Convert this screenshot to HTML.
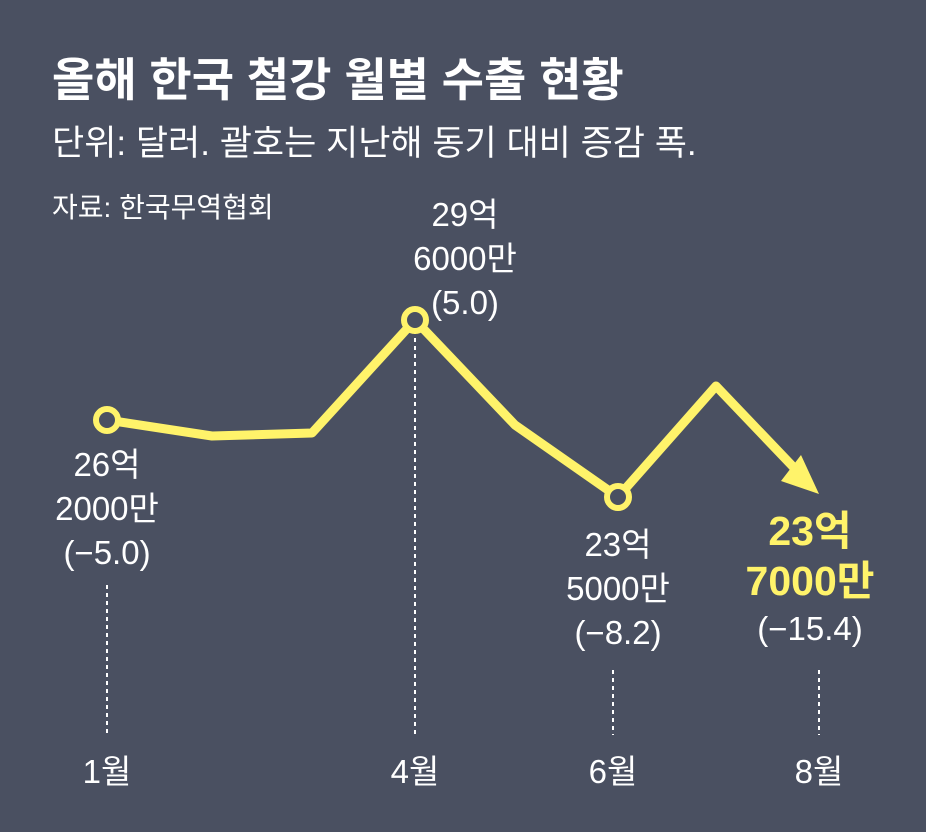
<!DOCTYPE html>
<html><head><meta charset="utf-8"><style>
html,body{margin:0;padding:0;}
body{width:926px;height:832px;background:#4a5061;overflow:hidden;position:relative;font-family:"Liberation Sans","Noto Sans CJK KR",sans-serif;color:#fff;}
.t{position:absolute;white-space:nowrap;}
.c{position:absolute;text-align:center;line-height:44px;font-size:33px;transform:translateX(-50%);white-space:nowrap;}
</style></head><body>
<div class="t" style="left:52px;top:44px;font-size:46px;font-weight:bold;">올해 한국 철강 월별 수출 현황</div>
<div class="t" style="left:52px;top:115px;font-size:35px;">단위: 달러. 괄호는 지난해 동기 대비 증감 폭.</div>
<div class="t" style="left:52px;top:186px;font-size:28px;">자료: 한국무역협회</div>
<svg width="926" height="832" style="position:absolute;left:0;top:0">
<g stroke="#fff" stroke-width="2" stroke-dasharray="4,4">
<line x1="107" y1="585" x2="107" y2="735"/>
<line x1="415" y1="330" x2="415" y2="735"/>
<line x1="613" y1="670" x2="613" y2="735"/>
<line x1="819" y1="670" x2="819" y2="735"/>
</g>
<polyline points="107,420 212,436 312,433 415,320 515,425 618,497 716,386 800,474" fill="none" stroke="#fff36a" stroke-width="9" stroke-linejoin="round" stroke-linecap="round"/>
<polygon points="819,494 781,481 801,455" fill="#fff36a"/>
<g fill="#4a5061" stroke="#fff36a" stroke-width="6">
<circle cx="107" cy="420" r="11"/><circle cx="415" cy="320" r="11"/><circle cx="618" cy="497" r="11"/>
</g>
</svg>
<div class="c" style="left:107px;top:443px;">26억<br>2000만<br>(−5.0)</div>
<div class="c" style="left:465px;top:193px;">29억<br>6000만<br>(5.0)</div>
<div class="c" style="left:618px;top:523px;">23억<br>5000만<br>(−8.2)</div>
<div class="c" style="left:810px;top:506px;color:#fff36a;font-weight:bold;font-size:41px;line-height:50px;">23억<br>7000만</div>
<div class="c" style="left:810px;top:607px;">(−15.4)</div>
<div class="c" style="left:107px;top:750px;">1월</div>
<div class="c" style="left:415px;top:750px;">4월</div>
<div class="c" style="left:613px;top:750px;">6월</div>
<div class="c" style="left:819px;top:750px;">8월</div>
</body></html>
